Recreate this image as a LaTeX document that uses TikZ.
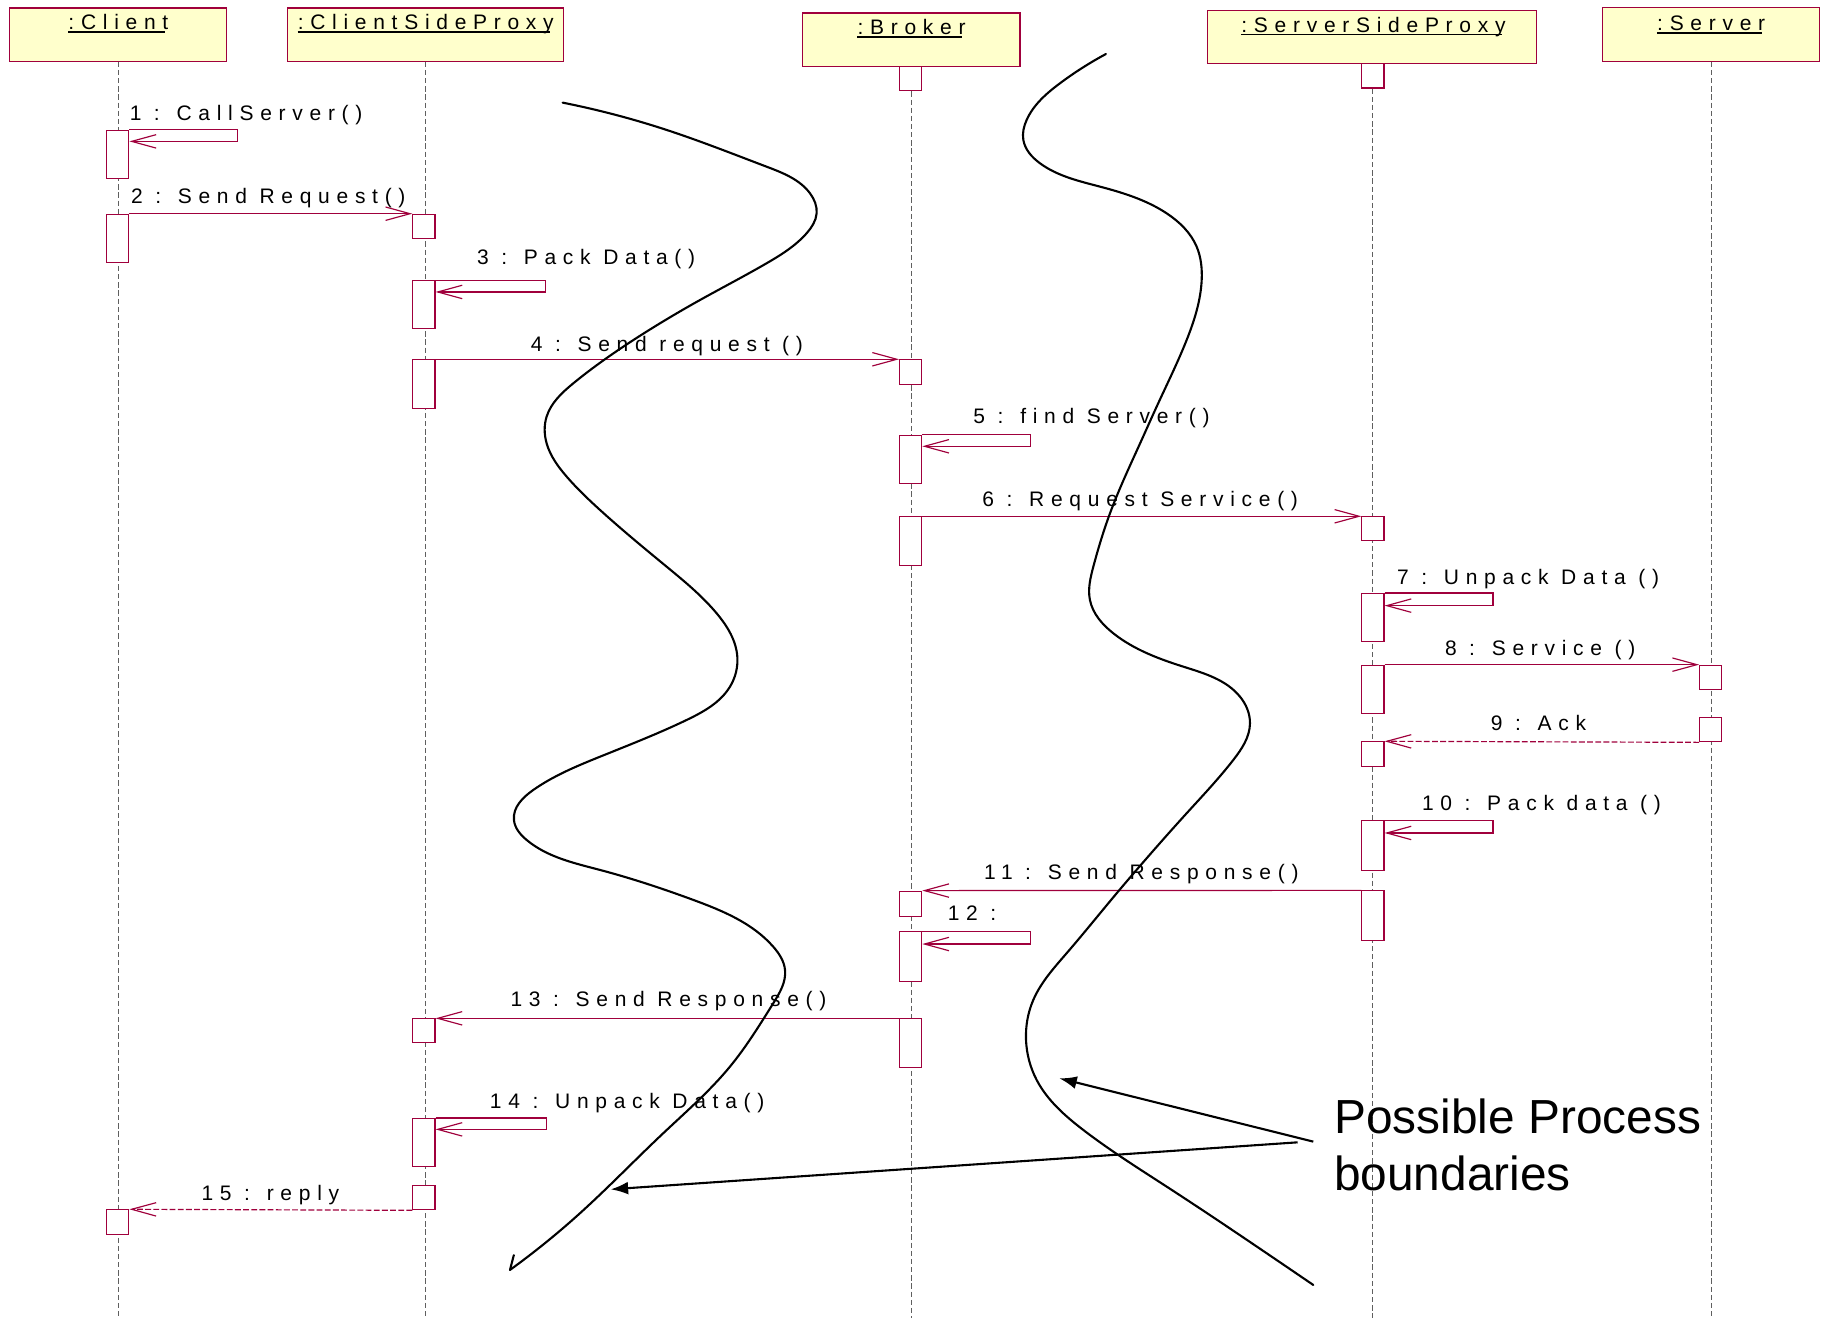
\documentclass[tikz,border=0pt]{standalone}
\usepackage{fontspec}
\setmainfont{Liberation Sans}
\newfontfamily\msgfont[LetterSpace=32]{Liberation Sans}
\usetikzlibrary{arrows.meta,hobby}
\definecolor{umlred}{RGB}{160,0,60}
\definecolor{headfill}{RGB}{255,255,204}
\definecolor{lifegray}{RGB}{95,95,95}

\begin{document}
\begin{tikzpicture}[x=1pt,y=-1pt,
  head/.style={draw=umlred, fill=headfill, line width=1pt, inner sep=0pt, anchor=north west},
  hlbl/.style={font=\msgfont\fontsize{18}{20}\selectfont, inner sep=0pt, anchor=base},
  uline/.style={line width=1.4pt},
  life/.style={draw=lifegray, line width=0.9pt, dash pattern=on 4.5pt off 2.5pt},
  act/.style={draw=umlred, fill=white, line width=0.9pt, minimum width=19pt, inner sep=0pt, anchor=north},
  msg/.style={draw=umlred, line width=1pt, -{Straight Barb[length=21pt,width=11.5pt]}},
  reply/.style={msg, dash pattern=on 5pt off 2pt},
  lbl/.style={font=\msgfont\fontsize{18}{20}\selectfont, inner sep=0pt, anchor=base},
  boundary/.style={line width=1.8pt, line join=round, line cap=round},
  note/.style={font=\fontsize{41}{48}\selectfont, inner sep=0pt, anchor=base west},
  pointer/.style={line width=1.8pt, -{Latex[length=15pt,width=11pt]}}
]
\fill[white] (0,0) rectangle (1568,1130);
\useasboundingbox (0,0) rectangle (1568,1130);

% object heads
\node[head, minimum width=186pt, minimum height=45.7pt] (client) at (7.9,6.3) {};
\node[head, minimum width=236.5pt, minimum height=45.7pt] (csp) at (246.1,6.3) {};
\node[head, minimum width=186.5pt, minimum height=45.7pt] (broker) at (687.5,10.6) {};
\node[head, minimum width=282.4pt, minimum height=45.7pt] (ssp) at (1034.6,8.3) {};
\node[head, minimum width=186pt, minimum height=46pt] (server) at (1373.5,6) {};

\node[hlbl] (clientlbl) at (101.5,25.7) {:Client};
\node[hlbl] (csplbl) at (365,25.7) {:ClientSideProxy};
\node[hlbl] (brokerlbl) at (781.5,29.8) {:Broker};
\node[hlbl] (ssplbl) at (1177.5,27.7) {:ServerSideProxy};
\node[hlbl] (serverlbl) at (1467,26.3) {:Server};
\foreach \n in {clientlbl,csplbl,brokerlbl,ssplbl,serverlbl}
  \draw[uline] ([yshift=-1.8pt]\n.base west) -- ([xshift=-3pt,yshift=-1.8pt]\n.base east);

% lifelines
\foreach \h in {client,csp,broker,ssp,server}
  \draw[life] (\h.south) -- (\h.south |- 0,1130);

% activations
\node[act, minimum height=41.7pt] (a1) at (101,111.2) {};
\node[act, minimum height=41.7pt] (a2) at (101,183.2) {};
\node[act, minimum height=21.5pt] (a3) at (101,1036.7) {};

\node[act, minimum height=21.1pt] (p1) at (363.4,183.2) {};
\node[act, minimum height=41pt] (p2) at (363.4,240.3) {};
\node[act, minimum height=42pt] (p3) at (363.4,308) {};
\node[act, minimum height=20.6pt] (p4) at (363.4,873) {};
\node[act, minimum height=41.5pt] (p5) at (363.4,958.4) {};
\node[act, minimum height=20.5pt] (p6) at (363.4,1016.2) {};

\node[act, minimum height=20.7pt] (b0) at (780.7,56.3) {};
\node[act, minimum height=21pt] (b1) at (780.7,308) {};
\node[act, minimum height=41.7pt] (b2) at (780.7,372.6) {};
\node[act, minimum height=41.8pt] (b3) at (780.7,442.6) {};
\node[act, minimum height=21.8pt] (b4) at (780.7,763.5) {};
\node[act, minimum height=42.6pt] (b5) at (780.7,798.4) {};
\node[act, minimum height=41.4pt] (b6) at (780.7,873) {};

\node[act, minimum height=21pt] (s0) at (1177,54) {};
\node[act, minimum height=20.7pt] (s1) at (1177,442.6) {};
\node[act, minimum height=41.4pt] (s2) at (1177,508.4) {};
\node[act, minimum height=41.4pt] (s3) at (1177,569.8) {};
\node[act, minimum height=20.9pt] (s4) at (1177,635.5) {};
\node[act, minimum height=42.8pt] (s5) at (1177,703.3) {};
\node[act, minimum height=42.5pt] (s6) at (1177,763.3) {};

\node[act, minimum height=20.6pt] (v1) at (1466.6,569.8) {};
\node[act, minimum height=20.8pt] (v2) at (1466.6,614.7) {};

% messages
\draw[msg] (a1.north east) -- ++(93,0) -- ++(0,10) -- ([yshift=-10pt]a1.north east);
\node[lbl] (m1) at (211,103.7) {1 : CallServer()};

\draw[msg] (a2.north east) -- (p1.north west);
\node[lbl] (m2) at (230,174.3) {2 : Send Request()};

\draw[msg] (p2.north east) -- ++(94,0) -- ++(0,10) -- ([yshift=-10pt]p2.north east);
\node[lbl] (m3) at (502.5,226.8) {3 : Pack Data()};

\draw[msg] (p3.north east) -- (b1.north west);
\node[lbl] (m4) at (571.7,301) {4 : Send request ()};

\draw[msg] (b2.north east) -- ++(93,0) -- ++(0,10) -- ([yshift=-10pt]b2.north east);
\node[lbl] (m5) at (935.8,363) {5 : find Server()};

\draw[msg] (b3.north east) -- (s1.north west);
\node[lbl] (m6) at (977.5,434.4) {6 : Request Service()};

\draw[msg] (s2.north east) -- ++(93,0) -- ++(0,10.8) -- ([yshift=-10.8pt]s2.north east);
\node[lbl] (m7) at (1310,501.4) {7 : Unpack Data ()};

\draw[msg] (s3.north east) -- (v1.north west);
\node[lbl] (m8) at (1320.4,561.7) {8 : Service ()};

\draw[reply] (v2.south west) -- (s4.north east);
\node[lbl] (m9) at (1319,626) {9 : Ack};

\draw[msg] (s5.north east) -- ++(93,0) -- ++(0,10.8) -- ([yshift=-10.8pt]s5.north east);
\node[lbl] (m10) at (1321.5,695.2) {10 : Pack data ()};

\draw[msg] (s6.north west) -- (b4.north east);
\node[lbl] (m11) at (978.5,754.4) {11 : Send Response()};

\draw[msg] (b5.north east) -- ++(92.5,0) -- ++(0,10.9) -- ([yshift=-10.9pt]b5.north east);
\node[lbl] (m12) at (833.3,789.5) {12 :};

\draw[msg] (b6.north west) -- (p4.north east);
\node[lbl] (m13) at (573.1,863) {13 : Send Response()};

\draw[msg] (p5.north east) -- ++(95,0) -- ++(0,9.8) -- ([yshift=-9.8pt]p5.north east);
\node[lbl] (m14) at (537.7,950) {14 : Unpack Data()};

\draw[reply] (p6.south west) -- (a3.north east);
\node[lbl] (m15) at (231.8,1029) {15 : reply};

% process boundaries
\draw[boundary, use Hobby shortcut]
  (482.4,88) .. (571.5,111.4) .. (657.2,142.9) .. (694.4,165.7) .. (700.1,182.9)
  .. (691.5,200) .. (657.2,225.7) .. (600.1,257.2) .. (543,291.5) .. (491.5,328.6)
  .. (468.6,357.2) .. (468.6,380) .. (485.8,408.6) .. (514.4,437.2) .. (571.5,485.8)
  .. (614.4,525.8) .. (632.1,563) .. (625.8,588.7) .. (588.7,617.2) .. (514.4,648.7)
  .. (457.2,677.2) .. (440.6,703) .. (451.5,720.1) .. (514.4,745.8) .. (594.4,771.5)
  .. (662.9,811.6) .. (673,831.5) .. (662.9,860.1) .. (625.8,914.4) .. (568.6,971.5)
  .. (497.2,1040.1) .. (437.2,1088.7);
\draw[boundary] (437.2,1088.7) -- (440.5,1076);

\draw[boundary, use Hobby shortcut]
  (948.1,46.3) .. (908.7,71.4) .. (880.1,102.9) .. (877.3,120) .. (891.6,140)
  .. (943,160) .. (1000.2,182.9) .. (1025.9,211.5) .. (1030.2,240) .. (1017.3,291.5)
  .. (991.6,348.6) .. (978.7,377.2) .. (951.6,440) .. (937.3,485.8) .. (934.4,514.4)
  .. (954.4,542.9) .. (1014.4,571.5) .. (1063,597.2) .. (1071.6,620.1) .. (1057.3,651.5)
  .. (1017.3,697.2) .. (983,735.8) .. (957.3,765.8) .. (914.4,817.2) .. (885.8,857.3)
  .. (879.6,891.6) .. (888.7,925.8) .. (928.7,968.7) .. (1000.2,1017.3) .. (1085.9,1074.4)
  .. (1125.9,1101.6);

\node[note] (pp1) at (1143.6,971.5) {Possible Process};
\node[note] (pp2) at (1143.6,1020.2) {boundaries};

\coordinate (from1) at (1125.9,978.7);
\coordinate (from2) at (1112.5,979.3);
\coordinate (tip1) at (908.1,924.4);
\coordinate (tip2) at (523.5,1019.6);
\draw[pointer] (from1) -- (tip1);
\draw[pointer] (from2) -- (tip2);
\end{tikzpicture}
\end{document}
